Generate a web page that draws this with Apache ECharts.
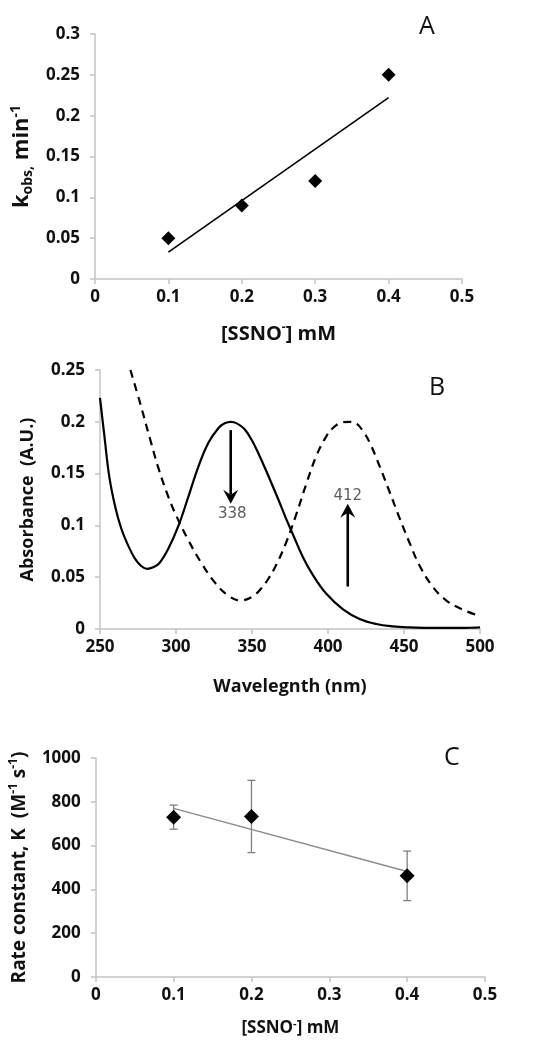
<!DOCTYPE html>
<html>
<head>
<meta charset="utf-8">
<script src="https://cdn.jsdelivr.net/npm/echarts@6/dist/echarts.min.js"></script>
<style>
  html, body { margin: 0; padding: 0; background: #fff; }
  #chart { width: 535px; height: 1049px; }
</style>
</head>
<body>
<div id="chart"></div>
<script>
// ---------- Panel A data ----------
const concA = [0.1, 0.2, 0.3, 0.4];
const kobsA = [0.05, 0.09, 0.12, 0.25];
const fitAX = [0.1, 0.4];
const fitAY = [0.033, 0.222];
const ticksAX = ['0', '0.1', '0.2', '0.3', '0.4', '0.5'];
const ticksAY = ['0', '0.05', '0.1', '0.15', '0.2', '0.25', '0.3'];

// ---------- Panel B data ----------
const solidWl = [250.0, 253.0, 256.0, 260.0, 264.0, 268.7, 273.0, 277.0, 281.0, 285.0, 289.0, 295.1, 301.7, 308.2, 314.8, 321.4, 328.0, 332.0, 336.0, 340.0, 345.0, 350.0, 355.0, 361.0, 367.6, 372.0, 377.0, 383.6, 390.1, 398.9, 409.9, 420.8, 431.8, 442.8, 453.7, 465.0, 475.7, 487.0, 497.6, 500];
const solidAbs = [0.223, 0.185, 0.148, 0.118, 0.097, 0.080, 0.068, 0.061, 0.058, 0.0595, 0.0635, 0.078, 0.100, 0.128, 0.157, 0.180, 0.194, 0.1985, 0.200, 0.1985, 0.193, 0.182, 0.167, 0.147, 0.124, 0.108, 0.091, 0.069, 0.052, 0.034, 0.019, 0.0097, 0.0048, 0.0025, 0.0015, 0.0011, 0.001, 0.001, 0.0014, 0.0015];
const dashWl = [270.0, 276.4, 283.0, 288.5, 295.1, 300.6, 308.2, 317.0, 325.8, 334.6, 342.3, 350.0, 356.0, 361.0, 366.0, 372.6, 379.2, 385.7, 392.3, 398.9, 404.0, 409.0, 414.3, 419.0, 423.0, 427.4, 434.0, 440.6, 447.1, 453.7, 460.3, 469.1, 477.9, 488.9, 500.0];
const dashAbs = [0.250, 0.218, 0.183, 0.155, 0.127, 0.108, 0.0855, 0.063, 0.0445, 0.032, 0.0275, 0.031, 0.039, 0.049, 0.062, 0.084, 0.111, 0.140, 0.167, 0.186, 0.195, 0.1993, 0.200, 0.198, 0.191, 0.180, 0.157, 0.132, 0.107, 0.083, 0.061, 0.0405, 0.0275, 0.0185, 0.0125];
const arrowX = [336, 413];
const arrowFrom = [0.192, 0.041];
const arrowTo = [0.121, 0.121];
const peakLabels = ['338', '412'];
const peakLabelX = [337, 413];
const peakLabelY = [0.111, 0.128];
const ticksBX = ['250', '300', '350', '400', '450', '500'];
const ticksBY = ['0', '0.05', '0.1', '0.15', '0.2', '0.25'];

// ---------- Panel C data ----------
const concC = [0.1, 0.2, 0.4];
const rateC = [730, 733, 462];
const errC = [55, 165, 113];
const fitCX = [0.1, 0.4];
const fitCY = [770, 482];
const ticksCX = ['0', '0.1', '0.2', '0.3', '0.4', '0.5'];
const ticksCY = ['0', '200', '400', '600', '800', '1000'];

// ---------- helpers ----------
const FONT = '"Open Sans", "Liberation Sans", sans-serif';
const AXIS_COLOR = '#c4c4c4';

function zip(a, b) { return a.map((v, i) => [v, b[i]]); }

function makeAxis(gridIndex, min, max, interval, labels, margin, extra) {
  return Object.assign({
    gridIndex, type: 'value', min, max, interval,
    axisLine: { show: true, onZero: false, lineStyle: { color: AXIS_COLOR, width: 1.5 } },
    axisTick: { show: true, inside: false, length: 5, lineStyle: { color: AXIS_COLOR, width: 1.5 } },
    splitLine: { show: false },
    axisLabel: {
      color: '#111', fontFamily: FONT, fontWeight: 'bold', fontSize: 17, margin: margin,
      formatter: v => labels[Math.round((v - min) / interval)]
    },
    nameLocation: 'middle'
  }, extra || {});
}

function nameStyle(size) {
  const s = Math.round(size * 0.62);
  return {
    color: '#111', fontFamily: FONT, fontWeight: 'bold', fontSize: size, lineHeight: size + 4,
    rich: {
      sup: { color: '#111', fontFamily: FONT, fontWeight: 'bold', fontSize: s, verticalAlign: 'top', lineHeight: s },
      sub: { color: '#111', fontFamily: FONT, fontWeight: 'bold', fontSize: s, verticalAlign: 'bottom', lineHeight: s }
    }
  };
}

function arrowRender(params, api) {
  const x = api.value(0);
  const p0 = api.coord([x, api.value(1)]);
  const p1 = api.coord([x, api.value(2)]);
  const dir = p1[1] > p0[1] ? 1 : -1;
  const hl = 14, hw = 7.5, notch = 9;
  return {
    type: 'group',
    children: [
      { type: 'line', shape: { x1: p0[0], y1: p0[1], x2: p1[0], y2: p1[1] - dir * notch }, style: { stroke: '#000', lineWidth: 2.6 } },
      { type: 'polygon', shape: { points: [[p1[0], p1[1]], [p1[0] - hw, p1[1] - dir * hl], [p1[0], p1[1] - dir * notch], [p1[0] + hw, p1[1] - dir * hl]] }, style: { fill: '#000' } }
    ]
  };
}

function errRender(params, api) {
  const x = api.value(0), y = api.value(1), e = api.value(2);
  const top = api.coord([x, y + e]);
  const bot = api.coord([x, y - e]);
  const cap = 4;
  const st = { stroke: '#7f7f7f', lineWidth: 1.3 };
  return {
    type: 'group',
    children: [
      { type: 'line', shape: { x1: top[0], y1: top[1], x2: bot[0], y2: bot[1] }, style: st },
      { type: 'line', shape: { x1: top[0] - cap, y1: top[1], x2: top[0] + cap, y2: top[1] }, style: st },
      { type: 'line', shape: { x1: bot[0] - cap, y1: bot[1], x2: bot[0] + cap, y2: bot[1] }, style: st }
    ]
  };
}

const chart = echarts.init(document.getElementById('chart'), null, { renderer: 'canvas' });

const option = {
  backgroundColor: '#fff',
  animation: false,
  grid: [
    { left: 95, top: 34, width: 367, height: 245 },
    { left: 100, top: 370, width: 380, height: 259 },
    { left: 95, top: 758, width: 390, height: 219 }
  ],
  xAxis: [
    makeAxis(0, 0, 0.5, 0.1, ticksAX, 10, { name: '[SSNO{sup|-}] mM', nameGap: 43, nameTextStyle: nameStyle(20) }),
    makeAxis(1, 250, 500, 50, ticksBX, 10, { name: 'Wavelegnth (nm)', nameGap: 47, nameTextStyle: nameStyle(18) }),
    makeAxis(2, 0, 0.5, 0.1, ticksCX, 10, { name: '[SSNO{sup|-}] mM', nameGap: 41, nameTextStyle: nameStyle(17) })
  ],
  yAxis: [
    makeAxis(0, 0, 0.3, 0.05, ticksAY, 15, { name: 'k{sub|obs,} min{sup|-1}', nameGap: 55, nameTextStyle: nameStyle(22) }),
    makeAxis(1, 0, 0.25, 0.05, ticksBY, 15, { name: 'Absorbance  (A.U.)', nameGap: 61, nameTextStyle: nameStyle(18) }),
    makeAxis(2, 0, 1000, 200, ticksCY, 15, { name: 'Rate constant, K  (M{sup|-1} s{sup|-1})', nameGap: 56, nameTextStyle: nameStyle(19) })
  ],
  graphic: [
    { type: 'text', left: 419, top: 14, style: { text: 'A', font: '25px ' + FONT, fill: '#111' } },
    { type: 'text', left: 429, top: 375, style: { text: 'B', font: '25px ' + FONT, fill: '#111' } },
    { type: 'text', left: 444, top: 745, style: { text: 'C', font: '25px ' + FONT, fill: '#111' } }
  ],
  series: [
    // Panel A
    { type: 'line', xAxisIndex: 0, yAxisIndex: 0, data: zip(fitAX, fitAY), symbol: 'none', lineStyle: { color: '#000', width: 1.6 }, z: 2 },
    { type: 'scatter', xAxisIndex: 0, yAxisIndex: 0, data: zip(concA, kobsA), symbol: 'diamond', symbolSize: 14, itemStyle: { color: '#000', opacity: 1 }, z: 3 },
    // Panel B
    { type: 'line', xAxisIndex: 1, yAxisIndex: 1, data: zip(solidWl, solidAbs), symbol: 'none', smooth: 0.4, lineStyle: { color: '#000', width: 2.2 } },
    { type: 'line', xAxisIndex: 1, yAxisIndex: 1, data: zip(dashWl, dashAbs), symbol: 'none', smooth: 0.4, lineStyle: { color: '#000', width: 2.2, type: [8, 6] } },
    { type: 'custom', xAxisIndex: 1, yAxisIndex: 1, renderItem: arrowRender, data: arrowX.map((x, i) => [x, arrowFrom[i], arrowTo[i]]), z: 5 },
    { type: 'scatter', xAxisIndex: 1, yAxisIndex: 1, data: peakLabelX.map((x, i) => ({ value: [x, peakLabelY[i]], name: peakLabels[i] })), symbolSize: 0,
      label: { show: true, position: 'inside', formatter: p => p.name, fontFamily: '"DejaVu Sans", sans-serif', fontSize: 15, color: '#333' }, z: 6 },
    // Panel C
    { type: 'custom', xAxisIndex: 2, yAxisIndex: 2, renderItem: errRender, data: concC.map((x, i) => [x, rateC[i], errC[i]]), z: 2 },
    { type: 'line', xAxisIndex: 2, yAxisIndex: 2, data: zip(fitCX, fitCY), symbol: 'none', lineStyle: { color: '#8c8c8c', width: 1.5 }, z: 3 },
    { type: 'scatter', xAxisIndex: 2, yAxisIndex: 2, data: zip(concC, rateC), symbol: 'diamond', symbolSize: 15, itemStyle: { color: '#000', opacity: 1 }, z: 4 }
  ]
};

chart.setOption(option);
</script>
</body>
</html>
